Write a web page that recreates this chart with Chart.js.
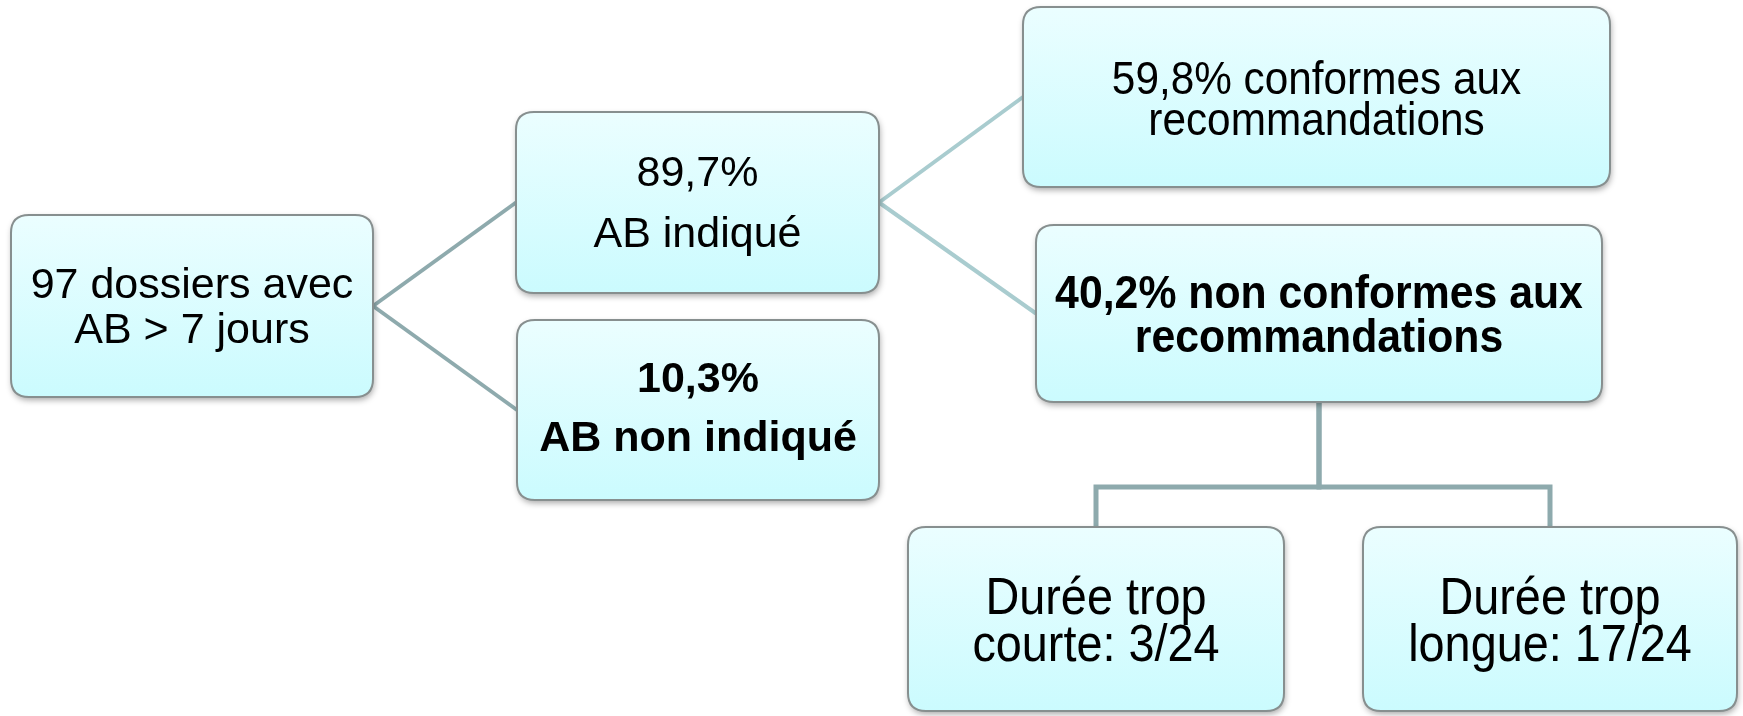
<!DOCTYPE html>
<html>
<head>
<meta charset="utf-8">
<script src="https://cdn.jsdelivr.net/npm/chart.js@4.4.0/dist/chart.umd.min.js"></script>
<style>
  html, body { margin: 0; padding: 0; background: #ffffff; }
  #wrap { width: 1743px; height: 716px; }
</style>
</head>
<body>
<div id="wrap"><canvas id="tree" width="1743" height="716"></canvas></div>
<script>
// --- contenu de l'arbre ---
const nodeLines = [
  ["97 dossiers avec", "AB > 7 jours"],
  ["89,7%", "AB indiqué"],
  ["10,3%", "AB non indiqué"],
  ["59,8% conformes aux", "recommandations"],
  ["40,2% non conformes aux", "recommandations"],
  ["Durée trop", "courte: 3/24"],
  ["Durée trop", "longue: 17/24"],
];
const nodeBold = [false, false, true, false, true, false, false];
// liens parent -> enfant
const straightLinks = [[0, 1], [0, 2], [1, 3], [1, 4]];
const elbowLinks = [[4, 5], [4, 6]];

// --- mise en page (unités du graphique = px) ---
const boxLeft   = [11, 516, 517, 1023, 1036, 908, 1363];
const boxRight  = [373, 879, 879, 1610, 1602, 1284, 1737];
const boxTop    = [215, 112, 320, 7, 225, 527, 527];
const boxBottom = [397, 293, 500, 187, 402, 711, 711];
const fontSize  = [43, 43, 43, 46, 46, 52, 52];
const squeeze   = [1, 1, 1, 0.92, 0.93, 0.9, 0.9];
const lineGap   = [45, 61, 59, 41, 44, 47, 47];
const textShift = [3, 2, 0, 5, 4, 4, 4];
const busY = 487;
const straightColors = ["#8eaaad", "#8eaaad", "#a9cccf", "#a9cccf"];
const elbowColor = "#8eaaad";

const midY = (i) => (boxTop[i] + boxBottom[i]) / 2;
const midX = (i) => (boxLeft[i] + boxRight[i]) / 2;

const datasets = [];
straightLinks.forEach(([p, c], k) => {
  datasets.push({
    data: [{ x: boxRight[p], y: midY(p) }, { x: boxLeft[c], y: midY(c) }],
    borderColor: straightColors[k],
    borderWidth: 4,
  });
});
elbowLinks.forEach(([p, c]) => {
  datasets.push({
    data: [
      { x: midX(p), y: boxBottom[p] },
      { x: midX(p), y: busY },
      { x: midX(c), y: busY },
      { x: midX(c), y: boxTop[c] },
    ],
    borderColor: elbowColor,
    borderWidth: 5,
  });
});
datasets.forEach((d) => {
  d.showLine = true;
  d.pointRadius = 0;
  d.tension = 0;
  d.fill = false;
  d.borderCapStyle = "butt";
  d.borderJoinStyle = "miter";
});

function roundRect(ctx, x, y, w, h, r) {
  ctx.beginPath();
  ctx.moveTo(x + r, y);
  ctx.lineTo(x + w - r, y);
  ctx.quadraticCurveTo(x + w, y, x + w, y + r);
  ctx.lineTo(x + w, y + h - r);
  ctx.quadraticCurveTo(x + w, y + h, x + w - r, y + h);
  ctx.lineTo(x + r, y + h);
  ctx.quadraticCurveTo(x, y + h, x, y + h - r);
  ctx.lineTo(x, y + r);
  ctx.quadraticCurveTo(x, y, x + r, y);
  ctx.closePath();
}

const boxesPlugin = {
  id: "boxes",
  afterDatasetsDraw(chart) {
    const { ctx, scales } = chart;
    const sx = scales.x, sy = scales.y;
    nodeLines.forEach((lines, i) => {
      const x0 = sx.getPixelForValue(boxLeft[i]);
      const x1 = sx.getPixelForValue(boxRight[i]);
      const y0 = sy.getPixelForValue(boxTop[i]);
      const y1 = sy.getPixelForValue(boxBottom[i]);
      const w = x1 - x0, h = y1 - y0;

      // ombre + fond dégradé
      ctx.save();
      ctx.shadowColor = "rgba(0,0,0,0.35)";
      ctx.shadowBlur = 6;
      ctx.shadowOffsetX = 1;
      ctx.shadowOffsetY = 3;
      const grad = ctx.createLinearGradient(0, y0, 0, y1);
      grad.addColorStop(0, "#ebfeff");
      grad.addColorStop(1, "#cbfbfe");
      roundRect(ctx, x0, y0, w, h, 18);
      ctx.fillStyle = grad;
      ctx.fill();
      ctx.restore();

      ctx.save();
      roundRect(ctx, x0, y0, w, h, 18);
      ctx.lineWidth = 2;
      ctx.strokeStyle = "#878f8f";
      ctx.stroke();
      ctx.restore();

      // texte
      ctx.save();
      ctx.fillStyle = "#000000";
      ctx.textAlign = "center";
      ctx.textBaseline = "middle";
      ctx.font = (nodeBold[i] ? "bold " : "") + fontSize[i] + "px 'Liberation Sans', Arial, sans-serif";
      const cx = (x0 + x1) / 2, cy = (y0 + y1) / 2 + textShift[i];
      lines.forEach((t, k) => {
        const ty = cy + (k - (lines.length - 1) / 2) * lineGap[i];
        ctx.save();
        ctx.translate(cx, ty);
        ctx.scale(squeeze[i], 1);
        ctx.fillText(t, 0, 0);
        ctx.restore();
      });
      ctx.restore();
    });
  },
};

new Chart(document.getElementById("tree"), {
  type: "scatter",
  data: { datasets },
  options: {
    responsive: false,
    animation: false,
    devicePixelRatio: 1,
    layout: { padding: 0 },
    plugins: { legend: { display: false }, tooltip: { enabled: false } },
    scales: {
      x: { type: "linear", min: 0, max: 1743, display: false },
      y: { type: "linear", min: 0, max: 716, reverse: true, display: false },
    },
  },
  plugins: [boxesPlugin],
});
</script>
</body>
</html>
